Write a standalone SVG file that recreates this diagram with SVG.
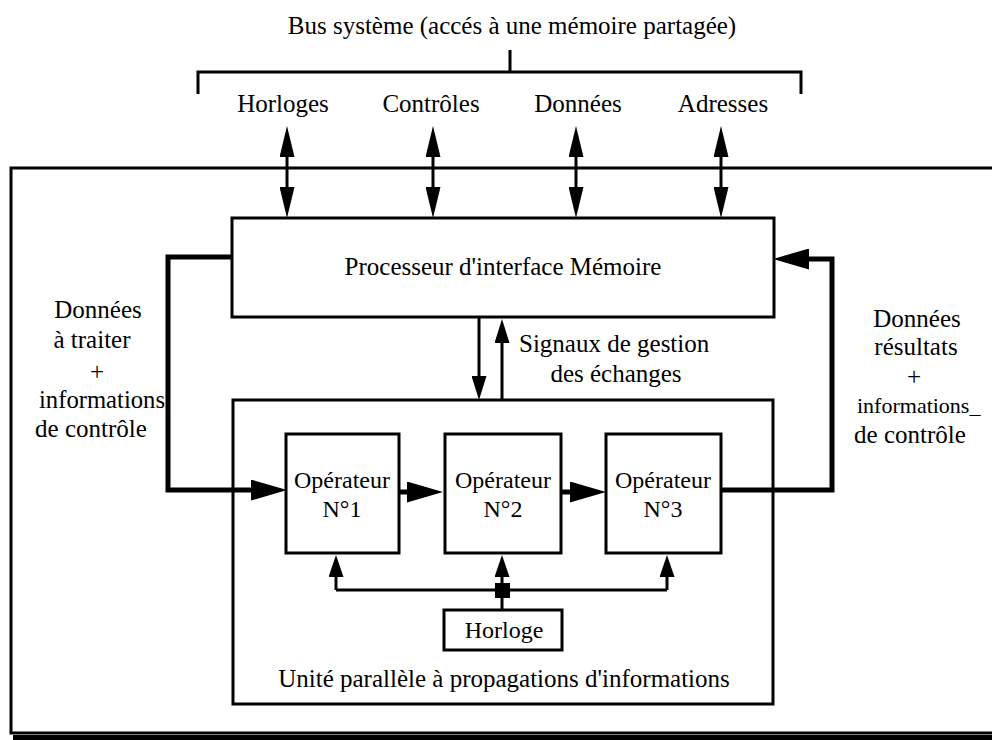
<svg xmlns="http://www.w3.org/2000/svg" width="992" height="740" viewBox="0 0 992 740">
<style>
  text { font-family: "Liberation Serif", "Times New Roman", serif; fill: #000; }
  .t25 { font-size: 25px; }
  .t24 { font-size: 24px; }
  .mid { text-anchor: middle; }
  .box { fill: #fff; stroke: #000; stroke-width: 3; }
  .ln { fill: none; stroke: #000; stroke-width: 3; }
  .thick { fill: none; stroke: #000; stroke-width: 5; }
</style>
<defs>
  <marker id="hBus" markerUnits="userSpaceOnUse" markerWidth="31" markerHeight="15" refX="1" refY="7.5" orient="auto-start-reverse" viewBox="0 0 31 15">
    <path d="M0,0 L31,7.5 L0,15 z" fill="#000"/>
  </marker>
  <marker id="hThick" markerUnits="userSpaceOnUse" markerWidth="36" markerHeight="21" refX="1" refY="10.5" orient="auto" viewBox="0 0 36 21">
    <path d="M0,0 L36,10.5 L0,21 z" fill="#000"/>
  </marker>
  <marker id="hMid" markerUnits="userSpaceOnUse" markerWidth="24" markerHeight="15" refX="1" refY="7.5" orient="auto" viewBox="0 0 24 15">
    <path d="M0,0 L24,7.5 L0,15 z" fill="#000"/>
  </marker>
  <marker id="hClk" markerUnits="userSpaceOnUse" markerWidth="22" markerHeight="15" refX="1" refY="7.5" orient="auto" viewBox="0 0 22 15">
    <path d="M0,0 L22,7.5 L0,15 z" fill="#000"/>
  </marker>
</defs>

<!-- outer frame -->
<g id="frame">
  <path class="ln" d="M992,168 H11 V733 H992"/>
  <rect x="13" y="735" width="979" height="5" fill="#000"/>
</g>

<!-- bus header -->
<g id="bus">
  <text class="t25 mid" x="512" y="34">Bus système (accés à une mémoire partagée)</text>
  <path class="ln" d="M198,94 V72 H801 V94 M510,50 V72"/>
  <text class="t25 mid" x="283" y="112">Horloges</text>
  <text class="t25 mid" x="431" y="112">Contrôles</text>
  <text class="t25 mid" x="578" y="112">Données</text>
  <text class="t25 mid" x="723" y="112">Adresses</text>
</g>

<g id="processeur">
  <rect class="box" x="232" y="218" width="542" height="99"/>
  <text class="t25 mid" x="503" y="275">Processeur d'interface Mémoire</text>
</g>

<g id="unite">
  <rect class="box" x="233" y="400" width="540" height="304"/>
  <text class="t25 mid" x="504" y="687">Unité parallèle à propagations d'informations</text>
</g>

<g id="op1">
  <rect class="box" x="286" y="434" width="113" height="119"/>
  <text class="t24 mid" x="342" y="488">Opérateur</text>
  <text class="t24 mid" x="342" y="517">N°1</text>
</g>
<g id="op2">
  <rect class="box" x="445" y="434" width="116" height="119"/>
  <text class="t24 mid" x="503" y="488">Opérateur</text>
  <text class="t24 mid" x="503" y="517">N°2</text>
</g>
<g id="op3">
  <rect class="box" x="606" y="434" width="115" height="119"/>
  <text class="t24 mid" x="663" y="488">Opérateur</text>
  <text class="t24 mid" x="663" y="517">N°3</text>
</g>

<g id="horloge">
  <rect class="box" x="444" y="610" width="118" height="40"/>
  <text class="t24 mid" x="504" y="638">Horloge</text>
</g>

<g id="labels">
  <text class="t25 mid" x="98" y="318">Données</text>
  <text class="t25 mid" x="92" y="348">à traiter</text>
  <text class="t25 mid" x="97" y="380">+</text>
  <text class="t25" x="39" y="408" textLength="126" lengthAdjust="spacingAndGlyphs">informations</text>
  <text class="t25 mid" x="91" y="437">de contrôle</text>

  <text class="t25 mid" x="917" y="327">Données</text>
  <text class="t25 mid" x="916" y="355">résultats</text>
  <text class="t25 mid" x="914" y="385">+</text>
  <text x="857" y="413" font-size="22">informations_</text>
  <text class="t25 mid" x="910" y="443">de contrôle</text>

  <text class="t25" x="519" y="352">Signaux de gestion</text>
  <text class="t25 mid" x="616" y="382">des échanges</text>
</g>

<g id="connectors">
  <!-- bus double arrows -->
  <line class="ln" x1="287" y1="156" x2="287" y2="188" marker-start="url(#hBus)" marker-end="url(#hBus)"/>
  <line class="ln" x1="433" y1="156" x2="433" y2="188" marker-start="url(#hBus)" marker-end="url(#hBus)"/>
  <line class="ln" x1="576" y1="156" x2="576" y2="188" marker-start="url(#hBus)" marker-end="url(#hBus)"/>
  <line class="ln" x1="721" y1="156" x2="721" y2="188" marker-start="url(#hBus)" marker-end="url(#hBus)"/>

  <!-- data in -->
  <path class="thick" d="M233,257 H168 V490 H252" marker-end="url(#hThick)"/>
  <!-- results out -->
  <path class="thick" d="M721,490 H832 V259 H808" marker-end="url(#hThick)"/>

  <!-- operator chain -->
  <path class="thick" d="M399,492 H408" marker-end="url(#hThick)"/>
  <path class="thick" d="M561,492 H571" marker-end="url(#hThick)"/>

  <!-- exchange signals -->
  <line class="ln" x1="479" y1="317" x2="479" y2="377" marker-end="url(#hMid)"/>
  <line class="ln" x1="502" y1="400" x2="502" y2="342" marker-end="url(#hMid)"/>

  <!-- clock distribution -->
  <path class="ln" d="M336,590 H667"/>
  <line class="ln" x1="336" y1="590" x2="336" y2="576" marker-end="url(#hClk)"/>
  <line class="ln" x1="502" y1="590" x2="502" y2="576" marker-end="url(#hClk)"/>
  <line class="ln" x1="667" y1="590" x2="667" y2="576" marker-end="url(#hClk)"/>
  <line class="ln" x1="502" y1="598" x2="502" y2="610"/>
  <rect x="495" y="583" width="15" height="15" fill="#000"/>
</g>
</svg>
